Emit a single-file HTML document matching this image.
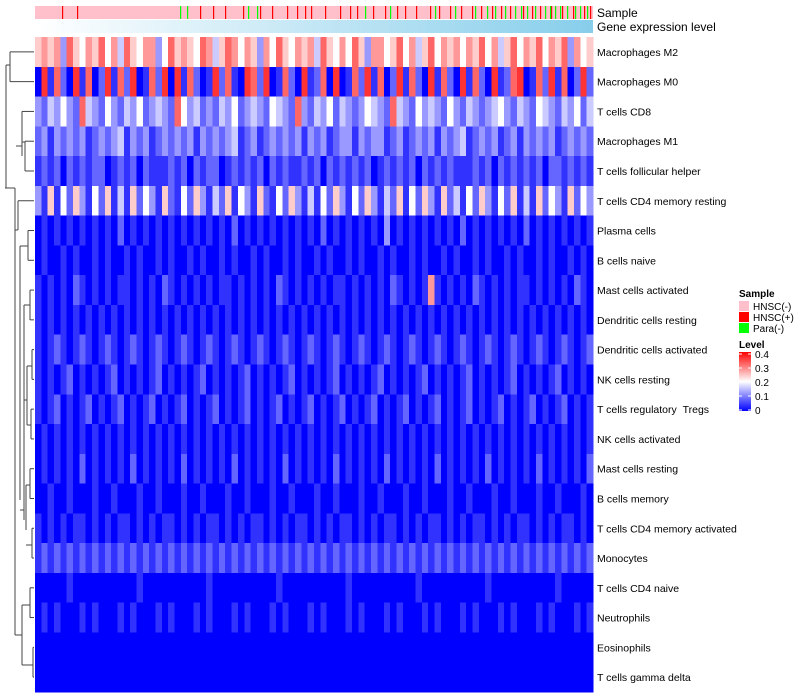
<!DOCTYPE html>
<html><head><meta charset="utf-8"><style>
body{margin:0;background:#fff;font-family:"Liberation Sans",sans-serif;}
svg{display:block}
</style></head><body>
<svg id="c" width="800" height="700"></svg>
<script>
const rowNames=["Macrophages M2","Macrophages M0","T cells CD8","Macrophages M1","T cells follicular helper","T cells CD4 memory resting","Plasma cells","B cells naive","Mast cells activated","Dendritic cells resting","Dendritic cells activated","NK cells resting","T cells regulatory\u00a0\u00a0Tregs","NK cells activated","Mast cells resting","B cells memory","T cells CD4 memory activated","Monocytes","T cells CD4 naive","Neutrophils","Eosinophils","T cells gamma delta"];
// digit d => level d*0.04
const rowLevels=[
"6767386576857486577358676587468757637586576748657586377568574685767576857468576857683756",
"0918209180291829018290918201928109829018209128090182918029182091820918209128901829180292",
"3243532843253243523432853423243523432543283243524323543284325343253243234532432543243524",
"2313232312323413231232323132323412312323231323123313233123123231323412323123132323123232",
"1212021212201212021112120212201212120212112120212121201212120212121112120212121202212121",
"3161526315261416253162152631426153162152631415263152631426152631624152631526141625316253",
"0101010101010201010101010101010201010101010102010101010301010101010201010101020101010101",
"0100101001010010100101001010010100101001010010100101001010010100101001010010100101001010",
"1010102101010110101021010101011010101021010101011010101021010171010102101010110101010210",
"1010101010101010101010101010101010101010101010101010101010101010101010101010101010101010",
"1012101210121012101210121012101210121012101210121012101210121012101210121012101210121012",
"1010120101012010101201010120101012010101201010120101012010101201010120101012010101201010",
"1012010120101201012010120101201012010120101201012010120101201012010120101201012010120101",
"0101010101010101010101010101010101010101010101010101010101010101010101010101010101010101",
"0101010201010102010101020101010201010102010101020101010201010102010101020101010201010102",
"0010010001001000100100010010001001000100100010010001001000100100010010001001000100100010",
"1010101101010110101011010101101010110101011010101101010110101011010101101010110101011010",
"1212121212121212121212121212121212121212121212121212121212121212121212121212121212121212",
"0000010000000000100000000001000000000010000000000100000000001000000000010000000000100000",
"0101000101000101000101000101000101000101000101000101000101000101000101000101000101000101",
"0000000000000000000000000000000000000000000000000000000000000000000000000000000000000000",
"0000000000000000000000000000000000000000000000000000000000000000000000000000000000000000"];
const nSamples=558;
const hnscPosIdx=[27,42,165,178,190,208,225,237,252,262,270,276,290,305,315,322,338,350,362,370,381,395,404,415,426,437,446,457,466,475,488,497,505,516,527,538,549,555];
const paraIdx=[145,152,213,222,330,355,400,420,440,452,460,470,480,486,492,500,510,515,520,525,532,540,545,552];
const levelTicks=[0,0.1,0.2,0.3,0.4];
const NS="http://www.w3.org/2000/svg";
const svg=document.getElementById("c");
function mk(t,a,p){const e=document.createElementNS(NS,t);for(const k in a)e.setAttribute(k,a[k]);(p||svg).appendChild(e);return e;}
const X0=35,X1=593,Y0=37,Y1=692;
const rowH=(Y1-Y0)/rowNames.length;
const xS=i=>X0+(X1-X0)*i/nSamples;
function col(v){let t=Math.max(0,Math.min(0.4,v))/0.4;let r,g,b;
 if(t<0.5){const u=t/0.5;r=255*u;g=255*u;b=255;}else{const u=(t-0.5)/0.5;r=255;g=255*(1-u);b=255*(1-u);}
 return `rgb(${r|0},${g|0},${b|0})`;}
const gA=mk("g",{});

mk("rect",{x:X0,y:6,width:X1-X0,height:13,fill:"#FFC0CB"},gA);
hnscPosIdx.forEach(i=>{const r=mk("rect",{x:xS(i),y:6,width:1.2,height:13,fill:"#FF0000"},gA);});
paraIdx.forEach(i=>{const r=mk("rect",{x:xS(i),y:6,width:1.2,height:13,fill:"#00FF00"},gA);});
const defs=mk("defs",{});
const lg=mk("linearGradient",{id:"gexp",x1:0,x2:1,y1:0,y2:0},defs);
mk("stop",{offset:0,"stop-color":"#ffffff"},lg);mk("stop",{offset:1,"stop-color":"#87CEEB"},lg);
const ge=mk("rect",{x:X0,y:20,width:X1-X0,height:13,fill:"url(#gexp)"});

const gH=mk("g",{"shape-rendering":"crispEdges"});

rowLevels.forEach((s,r)=>{const n=s.length,w=(X1-X0)/n;
 for(let i=0;i<n;i++){const c=mk("rect",{x:X0+i*w,y:Y0+r*rowH,width:w+0.5,height:rowH+0.5,fill:col(+s[i]*0.04)},gH);
  }
 const t=mk("text",{x:597,y:Y0+(r+0.5)*rowH+4,"font-size":10.5,fill:"#000"});t.textContent=rowNames[r];
 });
let t=mk("text",{x:597,y:17,"font-size":12});t.textContent="Sample";
t=mk("text",{x:597,y:31,"font-size":12});t.textContent="Gene expression level";
const yc=r=>Y0+(r+0.5)*rowH;
const gD=mk("g",{stroke:"#444","stroke-width":1,fill:"none"});

const segs=[[34,yc(0),10,yc(0)],[34,yc(1),10,yc(1)],[10,yc(0),10,yc(1)],
[34,yc(3),25,yc(3)],[34,yc(4),25,yc(4)],[25,yc(3),25,yc(4)],[34,yc(2),22,yc(2)],[25,142,22,142],[22,yc(2),22,156],[22,146,16,146],
[10,65,6,65],[6,65,6,188],[6,188,5,188],
[34,yc(5),18,yc(5)],[18,yc(5),18,230],[18,230,15,230],[15,188,15,600],[6,188,15,188],
[34,yc(6),28,yc(6)],[34,yc(7),28,yc(7)],[28,yc(6),28,yc(7)],[28,246,20,246],[20,246,20,500],
[34,yc(8),30,yc(8)],[30,yc(8),30,320],[34,yc(9),30,yc(9)],[30,305,24,305],[24,305,24,520],
[34,yc(10),32,yc(10)],[34,yc(11),32,yc(11)],[32,yc(10),32,yc(11)],[32,366,27,366],
[34,yc(12),31,yc(12)],[34,yc(13),31,yc(13)],[31,yc(12),31,yc(13)],[31,425,27,425],[27,366,27,425],[27,400,24,400],
[34,yc(14),30,yc(14)],[34,yc(15),30,yc(15)],[30,yc(14),30,yc(15)],[30,485,26,485],[26,485,26,530],
[34,yc(16),32,yc(16)],[34,yc(17),32,yc(17)],[32,yc(16),32,yc(17)],[32,545,26,545],[24,510,20,510],
[34,yc(18),30,yc(18)],[34,yc(19),30,yc(19)],[30,yc(18),30,yc(19)],[30,605,22,605],
[34,yc(20),33,yc(20)],[34,yc(21),33,yc(21)],[33,yc(20),33,yc(21)],[33,665,22,665],[22,605,22,665],[22,635,15,635],[15,600,15,635]];
segs.forEach(s=>{const l=mk("line",{x1:s[0],y1:s[1],x2:s[2],y2:s[3]},gD);});
const gL=mk("g",{});
t=mk("text",{x:739,y:297,"font-size":10,"font-weight":"bold"},gL);t.textContent="Sample";
[["HNSC(-)","#FFC0CB"],["HNSC(+)","#FF0000"],["Para(-)","#00FF00"]].forEach((e,i)=>{
 const g=mk("g",{},gL);
 mk("rect",{x:739,y:301+i*11,width:10,height:10,fill:e[1]},g);
 const tt=mk("text",{x:753,y:310+i*11,"font-size":10},g);tt.textContent=e[0];});
const gC=mk("g",{});
t=mk("text",{x:739,y:348,"font-size":10,"font-weight":"bold"},gC);t.textContent="Level";
const cg=mk("linearGradient",{id:"lvl",x1:0,x2:0,y1:1,y2:0},defs);
[0,0.5,1].forEach(o=>mk("stop",{offset:o,"stop-color":col(o*0.4)},cg));
mk("rect",{x:739,y:352,width:12,height:59,fill:"url(#lvl)"},gC);
const ly=v=>410-v/0.4*56;
levelTicks.forEach(v=>{mk("line",{x1:739,x2:742,y1:ly(v),y2:ly(v),stroke:"#fff"},gC);mk("line",{x1:748,x2:751,y1:ly(v),y2:ly(v),stroke:"#fff"},gC);
 const tt=mk("text",{x:755,y:ly(v)+4,"font-size":10},gC);tt.textContent=String(v);});
</script>
</body></html>
